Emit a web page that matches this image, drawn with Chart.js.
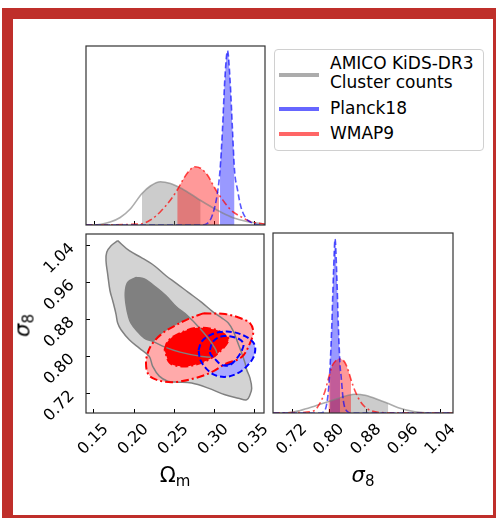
<!DOCTYPE html>
<html><head><meta charset="utf-8">
<script src="https://cdn.jsdelivr.net/npm/chart.js@4.4.1/dist/chart.umd.min.js"></script>
<style>
html,body{margin:0;padding:0;background:#fff;width:496px;height:518px;overflow:hidden;font-family:"DejaVu Sans",sans-serif;}
#frame{position:absolute;left:2px;top:8px;width:480px;height:496px;border-style:solid;border-color:#bf2f2a;border-width:11px 3px 3px 11px;background:#fff;}
canvas{position:absolute;}
.t{position:absolute;white-space:nowrap;color:#000;}
#legend{position:absolute;left:274px;top:49px;width:208px;height:100px;border:1px solid #d0d0d0;border-radius:4px;background:#fff;}
.lg{position:absolute;font-size:17px;line-height:19px;}
.sw{position:absolute;left:4px;width:40px;height:4px;}
.ax{font-size:21px;line-height:21px;}
</style></head>
<body>
<div id="frame"></div>
<canvas id="cA" width="190" height="190" style="left:80px;top:40px"></canvas>
<canvas id="cB" width="256" height="287" style="left:13px;top:228px"></canvas>
<canvas id="cC" width="190" height="287" style="left:268px;top:228px"></canvas>
<div id="legend">
  <div class="sw" style="top:23px;background:rgba(128,128,128,0.65)"></div>
  <div class="lg" style="left:55px;top:4px">AMICO KiDS-DR3</div>
  <div class="lg" style="left:55px;top:23px">Cluster counts</div>
  <div class="sw" style="top:57px;background:rgba(0,0,255,0.6)"></div>
  <div class="lg" style="left:55px;top:49px">Planck18</div>
  <div class="sw" style="top:82px;background:rgba(255,0,0,0.6)"></div>
  <div class="lg" style="left:55px;top:74px">WMAP9</div>
</div>
<div class="t ax" style="left:86px;width:178px;top:465px;text-align:center">Ω<sub style="font-size:15px;vertical-align:-4px">m</sub></div>
<div class="t ax" style="left:273px;width:180px;top:465px;text-align:center"><i>σ</i><sub style="font-size:15px;vertical-align:-4px">8</sub></div>
<div class="t ax" style="left:-4px;width:60px;top:312px;text-align:center;transform:rotate(-90deg)"><i>σ</i><sub style="font-size:15px;vertical-align:-4px">8</sub></div>
<script>
// ---- axis ranges and ticks ----
const omRange = [0.14, 0.3625];
const s8Range = [0.678, 1.066];
const omTicks = [0.15, 0.20, 0.25, 0.30, 0.35];
const s8Ticks = [0.72, 0.80, 0.88, 0.96, 1.04];

// ---- 2D contours (Omega_m, sigma_8) ----
const amico95 = [[0.1796,1.0515],[0.1941,1.0298],[0.2088,1.0154],[0.2254,0.9972],[0.2400,0.9755],[0.2525,0.9597],[0.2679,0.9395],[0.2846,0.9178],[0.2991,0.8968],[0.3100,0.8838],[0.3179,0.8729],[0.3241,0.8556],[0.3284,0.8367],[0.3346,0.8079],[0.3388,0.7862],[0.3409,0.7716],[0.3450,0.7536],[0.3471,0.7319],[0.3450,0.7174],[0.3409,0.7066],[0.3304,0.7102],[0.3138,0.7174],[0.2929,0.7319],[0.2721,0.7428],[0.2525,0.7450],[0.2421,0.7471],[0.2316,0.7580],[0.2234,0.7790],[0.2191,0.8007],[0.2066,0.8187],[0.1941,0.8367],[0.1838,0.8584],[0.1796,0.8729],[0.1775,0.8925],[0.1734,0.9213],[0.1700,0.9430],[0.1671,0.9792],[0.1650,1.0080],[0.1659,1.0263],[0.1713,1.0406],[0.1796,1.0515]];
const amico68 = [[0.2025,0.9720],[0.2129,0.9684],[0.2275,0.9504],[0.2400,0.9321],[0.2525,0.9087],[0.2659,0.8903],[0.2825,0.8614],[0.2929,0.8397],[0.3013,0.8180],[0.3034,0.8072],[0.2988,0.7992],[0.2825,0.8013],[0.2575,0.8100],[0.2388,0.8209],[0.2234,0.8332],[0.2129,0.8404],[0.2025,0.8584],[0.1963,0.8729],[0.1934,0.8853],[0.1900,0.9141],[0.1891,0.9395],[0.1921,0.9612],[0.2025,0.9720]];
const wmap95 = [[0.2866,0.8940],[0.3138,0.8925],[0.3325,0.8838],[0.3450,0.8729],[0.3491,0.8540],[0.3450,0.8295],[0.3346,0.7992],[0.3138,0.7840],[0.2971,0.7666],[0.2763,0.7536],[0.2513,0.7450],[0.2359,0.7465],[0.2234,0.7536],[0.2171,0.7645],[0.2150,0.7862],[0.2171,0.8079],[0.2234,0.8295],[0.2359,0.8512],[0.2525,0.8686],[0.2675,0.8816],[0.2866,0.8940]];
const wmap68 = [[0.2381,0.8144],[0.2425,0.8339],[0.2525,0.8469],[0.2763,0.8621],[0.3013,0.8588],[0.3159,0.8447],[0.3179,0.8339],[0.3054,0.8079],[0.2929,0.7933],[0.2763,0.7825],[0.2596,0.7790],[0.2450,0.7862],[0.2381,0.8144]];
const planck95 = [[0.2806,0.8144],[0.2850,0.8339],[0.2950,0.8469],[0.3075,0.8534],[0.3238,0.8534],[0.3388,0.8447],[0.3488,0.8317],[0.3516,0.8165],[0.3488,0.7970],[0.3400,0.7775],[0.3288,0.7634],[0.3150,0.7564],[0.3013,0.7601],[0.2909,0.7731],[0.2831,0.7927],[0.2806,0.8144]];
const planck68 = [[0.2950,0.8144],[0.2975,0.8295],[0.3038,0.8404],[0.3125,0.8447],[0.3238,0.8426],[0.3325,0.8371],[0.3369,0.8274],[0.3350,0.8144],[0.3288,0.7970],[0.3200,0.7820],[0.3100,0.7818],[0.3013,0.7948],[0.2956,0.8057],[0.2950,0.8144]];

// ---- 1D marginals: Omega_m (relative height) ----
const amicoOmX = [0.14,0.1488,0.17,0.1825,0.195,0.2096,0.22,0.2325,0.245,0.2575,0.27,0.2825,0.295,0.3075,0.3238,0.34,0.36,0.3625];
const amicoOmP = [0,0,0.0168,0.0419,0.0894,0.176,0.2179,0.2419,0.2318,0.2067,0.1732,0.1369,0.1034,0.0726,0.0391,0.0196,0.0056,0.004];
const wmapOmX = [0.14,0.2075,0.22,0.2325,0.245,0.2534,0.2616,0.27,0.275,0.2825,0.2909,0.2991,0.3054,0.3116,0.32,0.3325,0.345,0.3616,0.3625];
const wmapOmP = [0,0.0056,0.0279,0.0743,0.1397,0.1955,0.2609,0.3112,0.3257,0.3168,0.2793,0.214,0.1676,0.1302,0.0838,0.0464,0.0184,0.0056,0.005];
const planckOmX = [0.14,0.2825,0.2909,0.2971,0.3034,0.3066,0.3096,0.3125,0.3159,0.3191,0.3221,0.3246,0.3284,0.3325,0.3388,0.3471,0.3575,0.3625];
const planckOmP = [0,0,0.0095,0.0559,0.1788,0.3073,0.5307,0.8101,0.9737,0.8101,0.5307,0.3073,0.1955,0.1022,0.0374,0.0095,0,0];
// ---- 1D marginals: sigma_8 ----
const amicoS8X = [0.678,0.7043,0.7366,0.7688,0.8011,0.8404,0.8548,0.8763,0.9123,0.9265,0.948,0.9839,1.034,1.066];
const amicoS8P = [0,0,0.014,0.0391,0.067,0.0989,0.1045,0.0989,0.067,0.0531,0.0296,0.0073,0,0];
const wmapS8X = [0.678,0.7366,0.7652,0.7796,0.7903,0.7974,0.8047,0.8133,0.8226,0.8333,0.8404,0.8462,0.8548,0.8656,0.8763,0.8908,0.9194,1.066];
const wmapS8P = [0,0.0028,0.0112,0.0559,0.1229,0.19,0.257,0.2905,0.3,0.2793,0.2346,0.1844,0.1229,0.067,0.0335,0.0112,0.0017,0];
const planckS8X = [0.678,0.7796,0.7903,0.7974,0.8011,0.8047,0.8082,0.8118,0.8155,0.8189,0.8226,0.8247,0.8297,0.837,0.8484,1.066];
const planckS8P = [0,0,0.0168,0.1229,0.2626,0.486,0.7654,0.9665,0.7654,0.486,0.2626,0.2067,0.067,0.0112,0,0];
// ---- 68% intervals (shaded) ----
const amicoOm68 = [0.2096,0.2825], wmapOm68 = [0.2534,0.3054], planckOm68 = [0.3066,0.3246];
const amicoS868 = [0.8011,0.9265], wmapS868 = [0.7974,0.8462], planckS868 = [0.8011,0.8226];

// ---- styles ----
const C = {
  greyLine:'rgba(128,128,128,0.65)', greyShade:'rgba(128,128,128,0.4)',
  redLine:'rgba(255,0,0,0.7)', redShade:'rgba(255,0,0,0.4)',
  blueLine:'rgba(0,0,255,0.65)', blueShade:'rgba(0,0,255,0.4)'
};
const FONT = {family:'DejaVu Sans', size:16};

const framePlugin = {id:'frame', afterDraw(chart){const {ctx, chartArea:a}=chart; ctx.save(); ctx.strokeStyle='#333'; ctx.lineWidth=1.2; ctx.strokeRect(a.left, a.top, a.right-a.left, a.bottom-a.top); ctx.restore();}};

const pts = arr => arr.map(([x,y]) => ({x, y}));
const curve = (xs, ps) => xs.map((x,i) => ({x, y: ps[i]}));
const within = (xs, ps, r) => curve(xs, ps).filter(p => p.x >= r[0]-1e-9 && p.x <= r[1]+1e-9);
const noPad = s => { s.paddingLeft = 0; s.paddingRight = 0; s.paddingTop = 0; s.paddingBottom = 0; };

function tickScale(range, ticks, opts){
  return Object.assign({
    type:'linear', min:range[0], max:range[1],
    afterBuildTicks: s => { s.ticks = ticks.map(v => ({value:v})); },
    grid:{display:true, drawOnChartArea:false, drawTicks:true, tickLength:-4, color:'#000', tickWidth:1},
    border:{display:false}
  }, opts);
}
const base = {responsive:false, animation:false, events:[], plugins:{legend:{display:false}, tooltip:{enabled:false}}};

function line1D(data, color, dash, order){
  return {data, showLine:true, fill:false, borderColor:color, borderWidth:1.6, borderDash:dash, pointRadius:0, cubicInterpolationMode:'monotone', order};
}
function shade1D(data, color, order){
  return {data, showLine:true, fill:'origin', backgroundColor:color, borderWidth:0, borderColor:'rgba(0,0,0,0)', pointRadius:0, cubicInterpolationMode:'monotone', order};
}

// Panel A: Omega_m marginal
new Chart(document.getElementById('cA'), {
  type:'scatter',
  data:{datasets:[
    shade1D(within(amicoOmX, amicoOmP, amicoOm68), C.greyShade, 30),
    shade1D(within(wmapOmX, wmapOmP, wmapOm68), C.redShade, 29),
    shade1D(within(planckOmX, planckOmP, planckOm68), C.blueShade, 28),
    line1D(curve(amicoOmX, amicoOmP), C.greyLine, [], 20),
    line1D(curve(wmapOmX, wmapOmP), C.redLine, [7,3,2,3], 19),
    line1D(curve(planckOmX, planckOmP), C.blueLine, [6,3], 18)
  ]},
  options:Object.assign({}, base, {
    layout:{padding:{left:6, top:6, right:5, bottom:0}},
    scales:{
      x: tickScale(omRange, omTicks, {ticks:{display:false}, afterFit: s => { s.height = 5; noPad(s); }}),
      y: {type:'linear', min:0, max:1, display:false}
    }
  }),
  plugins:[framePlugin]
});

// Panel B: 2D Omega_m - sigma_8
function fill2D(arr, color, order){
  return {data:pts(arr), showLine:true, fill:'shape', backgroundColor:color, borderWidth:0, borderColor:'rgba(0,0,0,0)', pointRadius:0, tension:0.35, order};
}
function edge2D(arr, color, width, dash, order){
  return {data:pts(arr), showLine:true, fill:false, borderColor:color, borderWidth:width, borderDash:dash, pointRadius:0, tension:0.35, order};
}
new Chart(document.getElementById('cB'), {
  type:'scatter',
  data:{datasets:[
    fill2D(amico95, '#d3d3d3', 100),
    fill2D(amico68, '#808080', 99),
    fill2D(planck95, '#aaaaff', 98),
    fill2D(planck68, '#0000ff', 97),
    fill2D(wmap95, '#ffaaaa', 96),
    fill2D(wmap68, '#ff0000', 95),
    edge2D(amico95, '#808080', 1.5, [], 90),
    edge2D(amico68, '#808080', 1.5, [], 89),
    edge2D(wmap95, '#ff0000', 2, [8,3,2,3], 88),
    edge2D(wmap68, '#ff0000', 2, [8,3,2,3], 87),
    edge2D(planck95, '#0000ff', 2, [6,3], 86),
    edge2D(planck68, '#0000ff', 2, [6,3], 85)
  ]},
  options:Object.assign({}, base, {
    layout:{padding:{left:0, top:6, right:5, bottom:0}},
    scales:{
      x: tickScale(omRange, omTicks, {
        afterFit: s => { s.height = 102; noPad(s); },
        ticks:{minRotation:45, maxRotation:45, padding:11, labelOffset:12, color:'#000', font:FONT, callback: v => Number(v).toFixed(2)}
      }),
      y: tickScale(s8Range, s8Ticks, {
        afterFit: s => { s.width = 73; noPad(s); },
        ticks:{minRotation:45, maxRotation:45, padding:18, labelOffset:0, color:'#000', font:FONT, callback: v => Number(v).toFixed(2)}
      })
    }
  }),
  plugins:[framePlugin]
});

// Panel C: sigma_8 marginal
new Chart(document.getElementById('cC'), {
  type:'scatter',
  data:{datasets:[
    shade1D(within(amicoS8X, amicoS8P, amicoS868), C.greyShade, 30),
    shade1D(within(planckS8X, planckS8P, planckS868), C.blueShade, 29),
    shade1D(within(wmapS8X, wmapS8P, wmapS868), C.redShade, 28),
    line1D(curve(amicoS8X, amicoS8P), C.greyLine, [], 20),
    line1D(curve(wmapS8X, wmapS8P), C.redLine, [7,3,2,3], 19),
    line1D(curve(planckS8X, planckS8P), C.blueLine, [6,3], 18)
  ]},
  options:Object.assign({}, base, {
    layout:{padding:{left:5, top:5, right:5, bottom:0}},
    scales:{
      x: tickScale(s8Range, s8Ticks, {
        afterFit: s => { s.height = 102; noPad(s); },
        ticks:{minRotation:45, maxRotation:45, padding:11, labelOffset:12, color:'#000', font:FONT, callback: v => Number(v).toFixed(2)}
      }),
      y: {type:'linear', min:0, max:1, display:false}
    }
  }),
  plugins:[framePlugin]
});
</script>
</body></html>
